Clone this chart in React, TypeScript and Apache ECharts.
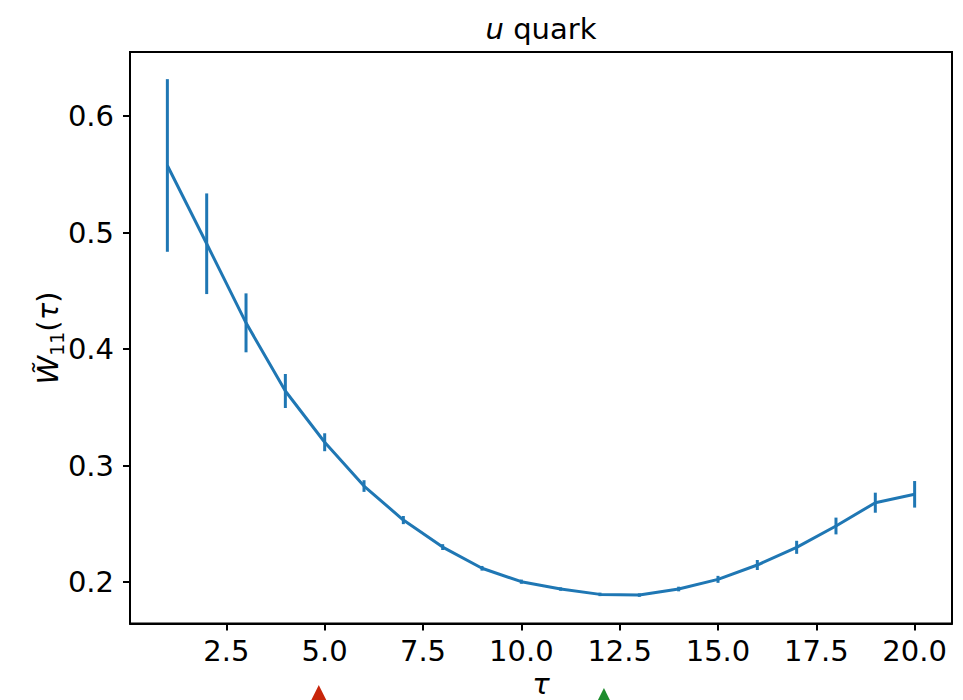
import React, { useEffect, useRef } from "react";
import * as echarts from "echarts";

const FONT = '"DejaVu Sans", sans-serif';
const BLUE = "#1f77b4";

// tau values
const tau = [1, 2, 3, 4, 5, 6, 7, 8, 9, 10, 11, 12, 13, 14, 15, 16, 17, 18, 19, 20];
// W~_11(tau) central values
const wValues = [
  0.5576, 0.4904, 0.4225, 0.364, 0.320, 0.2824, 0.2532, 0.2300, 0.2118, 0.2003,
  0.1940, 0.1894, 0.1888, 0.1940, 0.2023, 0.2146, 0.2298, 0.2481, 0.2681, 0.2753,
];
// error bar half-widths
const wErrors = [
  0.0741, 0.0432, 0.0253, 0.0146, 0.0077, 0.005, 0.0035, 0.0025, 0.002, 0.0018,
  0.0015, 0.0015, 0.0015, 0.002, 0.003, 0.0043, 0.0056, 0.0072, 0.0086, 0.0114,
];
// tick values
const xTicks = [2.5, 5, 7.5, 10, 12.5, 15, 17.5, 20];
const yTicks = [0.2, 0.3, 0.4, 0.5, 0.6];
// triangle markers below the axis
const redMarker = [[4.85, 0.1043]];
const greenMarker = [[12.1, 0.1021]];

export default function App() {
  const ref = useRef<HTMLDivElement>(null);

  useEffect(() => {
    document.body.style.margin = "0";
    const chart = echarts.init(ref.current!, null, { renderer: "svg" });

    const lineData = tau.map((t, i) => [t, wValues[i]]);
    const errData = tau.map((t, i) => [t, wValues[i] - wErrors[i], wValues[i] + wErrors[i]]);

    const option: any = {
      animation: false,
      backgroundColor: "#fff",
      grid: {
        left: 130,
        right: 11,
        top: 52,
        bottom: 76.5,
        show: true,
        borderColor: "#000",
        borderWidth: 2,
        backgroundColor: "transparent",
      },
      xAxis: {
        type: "value",
        min: 0.05,
        max: 20.95,
        axisLine: { show: true, onZero: false, lineStyle: { color: "#000", width: 2 } },
        splitLine: { show: false },
        axisTick: { show: true, length: 7, lineStyle: { color: "#000", width: 2 }, customValues: xTicks },
        axisLabel: {
          customValues: xTicks,
          formatter: (v: number) => v.toFixed(1),
          fontSize: 29,
          fontFamily: FONT,
          color: "#000",
          margin: 13,
        },
      },
      yAxis: {
        type: "value",
        min: 0.1644,
        max: 0.655,
        axisLine: { show: true, onZero: false, lineStyle: { color: "#000", width: 2 } },
        splitLine: { show: false },
        axisTick: { show: true, length: 7, lineStyle: { color: "#000", width: 2 }, customValues: yTicks },
        axisLabel: {
          customValues: yTicks,
          formatter: (v: number) => v.toFixed(1),
          fontSize: 29,
          fontFamily: FONT,
          color: "#000",
          margin: 16,
        },
      },
      series: [
        {
          type: "line",
          data: lineData,
          showSymbol: false,
          symbol: "none",
          lineStyle: { color: BLUE, width: 3 },
          z: 2,
        },
        {
          type: "custom",
          data: errData,
          encode: { x: 0, y: [1, 2] },
          renderItem: (params: any, api: any) => {
            const x = api.value(0);
            const lo = api.coord([x, api.value(1)]);
            const hi = api.coord([x, api.value(2)]);
            return {
              type: "line",
              shape: { x1: lo[0], y1: lo[1], x2: hi[0], y2: hi[1] },
              style: { stroke: BLUE, lineWidth: 3 },
            };
          },
          z: 3,
        },
        {
          type: "scatter",
          data: redMarker,
          clip: false,
          symbol: "triangle",
          symbolSize: [17, 17],
          itemStyle: { color: "#c8250a", opacity: 1 },
        },
        {
          type: "scatter",
          data: greenMarker,
          clip: false,
          symbol: "triangle",
          symbolSize: [16, 16],
          itemStyle: { color: "#1e8c2e", opacity: 1 },
        },
      ],
      graphic: [
        {
          type: "text",
          x: 541,
          y: 29,
          style: {
            text: "{i|u} quark",
            font: `29px ${FONT}`,
            fill: "#000",
            textAlign: "center",
            textVerticalAlign: "middle",
            rich: {
              i: { fontStyle: "italic", fontSize: 29, fontFamily: FONT, fill: "#000" },
            },
          },
        },
        {
          type: "text",
          x: 541,
          y: 684,
          style: {
            text: "τ",
            fontSize: 29,
            fontStyle: "italic",
            fontFamily: FONT,
            fill: "#000",
            textAlign: "center",
            textVerticalAlign: "middle",
          },
        },
        {
          type: "text",
          x: 48,
          y: 338,
          rotation: Math.PI / 2,
          style: {
            text: "{w|W\u0303}{s|11}{p|(}{t|τ}{p|)}",
            fontSize: 29,
            fontFamily: FONT,
            fill: "#000",
            textAlign: "center",
            textVerticalAlign: "middle",
            rich: {
              w: { fontStyle: "italic", fontSize: 29, fontFamily: FONT, lineHeight: 40, verticalAlign: "middle" },
              s: { fontSize: 19, fontFamily: FONT, lineHeight: 40, verticalAlign: "bottom", padding: [0, 0, 2, 0] },
              p: { fontSize: 29, fontFamily: FONT, lineHeight: 40, verticalAlign: "middle" },
              t: { fontStyle: "italic", fontSize: 29, fontFamily: FONT, lineHeight: 40, verticalAlign: "middle" },
            },
          },
        },
      ],
    };

    chart.setOption(option);
    return () => chart.dispose();
  }, []);

  return <div ref={ref} style={{ width: 963, height: 700 }} />;
}
